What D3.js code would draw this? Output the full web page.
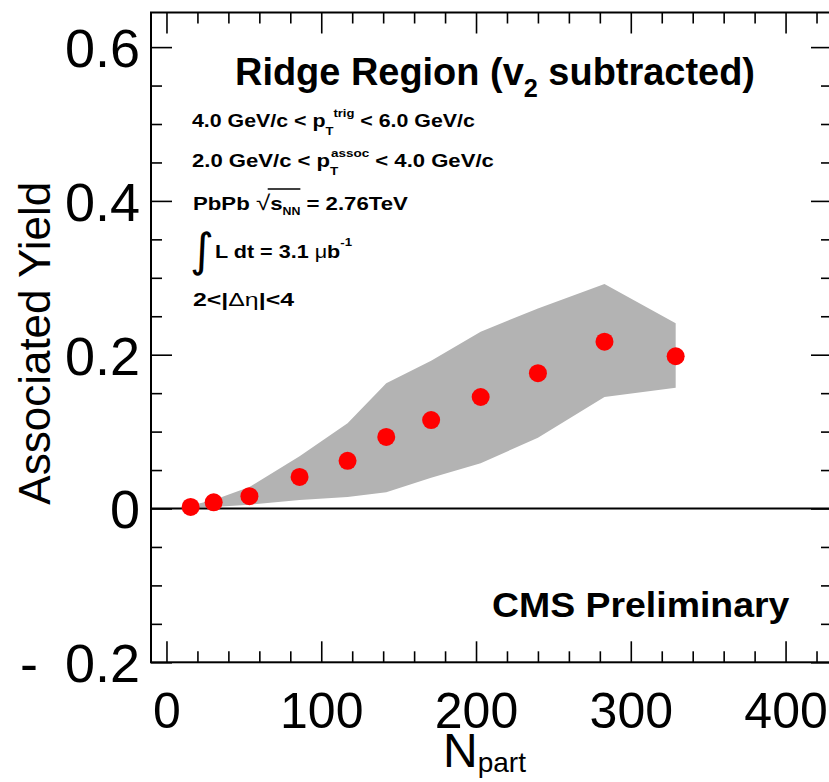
<!DOCTYPE html>
<html>
<head>
<meta charset="utf-8">
<script src="https://cdn.jsdelivr.net/npm/d3@7"></script>
<style>
  body { margin: 0; background: #fff; }
  svg { display: block; }
</style>
</head>
<body>
<div id="chart"></div>
<script>
// centrality bins -> N_part
const nPart = [15.6, 30.5, 53.6, 86, 117, 142, 171, 203, 240, 283, 329];
const assocYield = [0.002, 0.008, 0.016, 0.041, 0.062, 0.093, 0.115, 0.145, 0.176, 0.217, 0.198];
// systematic band
const sysUpper = [0.004, 0.011, 0.028, 0.068, 0.111, 0.163, 0.192, 0.230, 0.260, 0.292, 0.241];
const sysLower = [0.001, 0.002, 0.005, 0.011, 0.015, 0.021, 0.040, 0.059, 0.092, 0.145, 0.157];

const xMajor = [0, 100, 200, 300, 400];
const xMinor = [20, 40, 60, 80, 120, 140, 160, 180, 220, 240, 260, 280, 320, 340, 360, 380, 420];
const yMajor = [-0.2, 0, 0.2, 0.4, 0.6];
const yMinor = [-0.15, -0.1, -0.05, 0.05, 0.1, 0.15, 0.25, 0.3, 0.35, 0.45, 0.5, 0.55];

const W = 829, H = 782;
const FONT = "'Liberation Sans', Arial, Helvetica, sans-serif";
const L = 151, R = 832, T = 12.5, B = 662.3;

const svg = d3.select('#chart').append('svg')
    .attr('width', W)
    .attr('height', H)
    .attr('font-family', FONT);

svg.append('rect').attr('width', W).attr('height', H).attr('fill', '#fff');

const x = d3.scaleLinear().domain([-10, 430]).range([L, R]);
const y = d3.scaleLinear().domain([-0.2, 0.645]).range([B, T]);

const pts = nPart.map((n, i) => ({n, v: assocYield[i], lo: sysLower[i], hi: sysUpper[i]}));

// grey systematic band
svg.append('path')
    .datum(pts)
    .attr('fill', '#b3b3b3')
    .attr('d', d3.area()
        .x(d => x(d.n))
        .y0(d => y(d.lo))
        .y1(d => y(d.hi)));

// zero line
svg.append('line')
    .attr('x1', L).attr('x2', R)
    .attr('y1', y(0)).attr('y2', y(0))
    .attr('stroke', '#000').attr('stroke-width', 2);

svg.append('g').selectAll('circle')
    .data(pts)
    .enter()
    .append('circle')
    .attr('cx', d => x(d.n))
    .attr('cy', d => y(d.v))
    .attr('r', 9)
    .attr('fill', '#ff0000');

// frame + inward ticks
const fmt = d => d < 0 ? '-\u2002' + String(+(-d).toFixed(1)) : String(+d.toFixed(1));

function axis(gen, tx, ty, size) {
    const g = svg.append('g').attr('transform', `translate(${tx},${ty})`).call(gen);
    g.select('.domain').remove();
    g.selectAll('.tick line').attr('stroke', '#000').attr('stroke-width', 1.6);
    g.selectAll('.tick text')
        .attr('font-family', FONT)
        .attr('font-size', size || 50)
        .attr('fill', '#000');
    return g;
}

axis(d3.axisBottom(x).tickValues(xMajor).tickSize(-21).tickPadding(30).tickFormat(fmt), 0, B, 50);
axis(d3.axisBottom(x).tickValues(xMinor).tickSize(-11).tickFormat(''), 0, B);
axis(d3.axisTop(x).tickValues(xMajor).tickSize(-21).tickFormat(''), 0, T);
axis(d3.axisTop(x).tickValues(xMinor).tickSize(-11).tickFormat(''), 0, T);
axis(d3.axisLeft(y).tickValues(yMajor).tickSize(-21).tickPadding(11).tickFormat(fmt), L, 0, 54)
    .selectAll('.tick text').attr('dy', '0.36em');
axis(d3.axisLeft(y).tickValues(yMinor).tickSize(-11).tickFormat(''), L, 0);
axis(d3.axisRight(y).tickValues(yMajor).tickSize(-21).tickFormat(''), R, 0);
axis(d3.axisRight(y).tickValues(yMinor).tickSize(-11).tickFormat(''), R, 0);

svg.append('rect')
    .attr('x', L).attr('y', T)
    .attr('width', R - L).attr('height', B - T)
    .attr('fill', 'none')
    .attr('stroke', '#000')
    .attr('stroke-width', 2);

// axis titles
svg.append('text')
    .attr('transform', `translate(50,${(y(0) + 178) / 2}) rotate(-90)`)
    .attr('text-anchor', 'middle')
    .attr('font-size', 44)
    .text('Associated Yield');

const xt = svg.append('text').attr('x', 443).attr('y', 767);
xt.append('tspan').attr('font-size', 48).text('N');
xt.append('tspan').attr('font-size', 28).attr('dy', 5).text('part');

// stretch a group horizontally so it spans [x0, x0 + width]
function fit(g, x0, width) {
    const bb = g.node().getBBox();
    const s = width / bb.width;
    g.attr('transform', `translate(${x0 - bb.x * s},0) scale(${s},1)`);
}

function boldText(yPos, size) {
    const g = svg.append('g');
    const t = g.append('text')
        .attr('x', 0).attr('y', yPos)
        .attr('font-weight', 'bold')
        .attr('font-size', size);
    return {g, t};
}

// title
const title = boldText(85, 39);
title.t.append('tspan').text('Ridge Region (v');
title.t.append('tspan').attr('font-size', 26).attr('dy', 12).text('2');
title.t.append('tspan').attr('dy', -12).text(' subtracted)');
fit(title.g, 235, 520);

// cut lines
const l1 = boldText(127, 18);
l1.t.append('tspan').text('4.0 GeV/c < p');
l1.t.append('tspan').attr('font-size', 11).attr('dy', 8).text('T');
l1.t.append('tspan').attr('font-size', 11).attr('dy', -18).attr('dx', 0).text('trig');
l1.t.append('tspan').attr('dy', 10).text(' < 6.0 GeV/c');
fit(l1.g, 192, 283);

const l2 = boldText(167, 18);
l2.t.append('tspan').text('2.0 GeV/c < p');
l2.t.append('tspan').attr('font-size', 11).attr('dy', 8).text('T');
l2.t.append('tspan').attr('font-size', 11).attr('dy', -18).attr('dx', -6).text('assoc');
l2.t.append('tspan').attr('dy', 10).text(' < 4.0 GeV/c');
fit(l2.g, 192, 301);

const l3 = boldText(210, 18);
l3.t.append('tspan').text('PbPb ');
l3.t.append('tspan').attr('font-weight', 'normal').attr('font-size', 21).text('\u221A');
l3.t.append('tspan').text('s');
l3.t.append('tspan').attr('font-size', 10).attr('dy', 5).text('NN');
l3.t.append('tspan').attr('dy', -5).text(' = 2.76TeV');
{
    const node = l3.t.node();
    const txt = node.textContent;
    const i0 = txt.indexOf('s');
    const i1 = txt.indexOf('NN') + 1;
    const xa = node.getStartPositionOfChar(i0).x;
    const xb = node.getEndPositionOfChar(i1).x;
    l3.g.append('line')
        .attr('x1', xa - 2).attr('x2', xb)
        .attr('y1', 189).attr('y2', 189)
        .attr('stroke', '#000').attr('stroke-width', 1.5);
}
fit(l3.g, 193, 215);

svg.append('text')
    .attr('x', 190).attr('y', 266)
    .attr('font-family', "'DejaVu Sans', sans-serif")
    .attr('font-size', 46)
    .text('\u222B');

const l4 = boldText(258, 18);
l4.t.append('tspan').text('L dt = 3.1 ');
l4.t.append('tspan').attr('font-weight', 'normal').text('\u03BC');
l4.t.append('tspan').text('b');
l4.t.append('tspan').attr('font-size', 11).attr('dy', -12).text('-1');
fit(l4.g, 215, 137);

const l5 = boldText(306, 18);
l5.t.append('tspan').text('2<|');
l5.t.append('tspan').attr('font-weight', 'normal').text('\u0394\u03B7');
l5.t.append('tspan').text('|<4');
fit(l5.g, 193, 101);

const cms = boldText(617, 35);
cms.t.text('CMS Preliminary');
fit(cms.g, 492, 298);
</script>
</body>
</html>
